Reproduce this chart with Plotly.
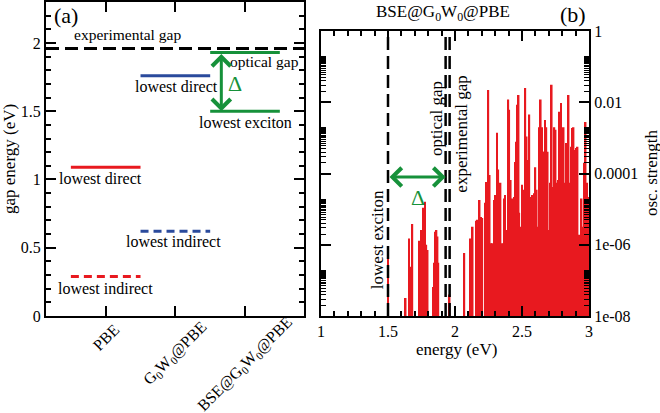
import plotly.graph_objects as go

# ---------------- data ----------------
methods = ["PBE", "G<sub>0</sub>W<sub>0</sub>@PBE", "BSE@G<sub>0</sub>W<sub>0</sub>@PBE"]
pbe_direct = 1.09
pbe_indirect = 0.29
g0w0_direct = 1.76
g0w0_indirect = 0.62
bse_exciton = 1.50
bse_optical = 1.93
exp_gap = 1.96

energies = [1.500, 1.632, 1.657, 1.672, 1.682, 1.736, 1.746, 1.759, 1.764, 1.776,
            1.786, 1.796, 1.838, 1.845, 1.852, 1.862, 1.870, 1.876, 1.960, 2.070,
            2.117, 2.132, 2.157, 2.169, 2.184, 2.194, 2.204, 2.224, 2.237, 2.249,
            2.259, 2.269, 2.278, 2.293, 2.304, 2.313, 2.323, 2.333, 2.340, 2.348,
            2.358, 2.366, 2.373, 2.390, 2.398, 2.405, 2.416, 2.430, 2.440, 2.448,
            2.458, 2.468, 2.475, 2.480, 2.490, 2.500, 2.507, 2.515, 2.525, 2.535,
            2.545, 2.555, 2.562, 2.570, 2.580, 2.590, 2.600, 2.610, 2.620, 2.627,
            2.634, 2.640, 2.648, 2.657, 2.664, 2.672, 2.682, 2.692, 2.700, 2.710,
            2.722, 2.732, 2.742, 2.751, 2.761, 2.771, 2.781, 2.791, 2.801, 2.811,
            2.821, 2.830, 2.840, 2.848, 2.855, 2.865, 2.875, 2.885, 2.895, 2.905,
            2.915, 2.925, 2.935, 2.945, 2.955, 2.965, 2.975, 2.985, 2.995]
osc_strength = [7.1e-7, 3.2e-8, 1.5e-6, 2.4e-7, 3.8e-6, 1.3e-6, 2.6e-6, 4.5e-8, 1.1e-5, 1.6e-5,
                1.0e-6, 7.1e-7, 6.5e-8, 3.1e-7, 2.3e-6, 2.6e-6, 1.7e-6, 3.1e-7, 4.0e-8, 5.9e-7,
                1.5e-6, 3.2e-6, 4.7e-6, 5.0e-6, 1.8e-5, 6.0e-6, 5.6e-6, 1.5e-5, 5.8e-5, 2.2e-2,
                9.1e-5, 1.1e-6, 1.1e-6, 1.8e-5, 2.5e-5, 1.4e-3, 1.3e-4, 2.2e-5, 5.5e-5, 1.1e-6,
                1.1e-6, 2.0e-5, 2.5e-5, 2.6e-6, 1.2e-2, 6.2e-3, 6.6e-5, 2.0e-5, 2.2e-5, 2.1e-4,
                7.8e-4, 8.5e-3, 1.6e-2, 7.9e-6, 3.2e-6, 4.8e-5, 3.5e-5, 5.0e-6, 2.5e-2, 1.1e-3,
                2.4e-4, 4.5e-3, 4.0e-6, 2.2e-5, 2.5e-5, 2.8e-5, 1.5e-4, 3.5e-5, 3.2e-6, 2.0e-3,
                5.2e-4, 1.2e-2, 2.0e-3, 4.1e-4, 4.1e-4, 3.2e-3, 2.0e-3, 4.1e-4, 2.6e-6, 5.5e-5,
                3.1e-2, 4.2e-5, 2.0e-3, 1.7e-3, 5.5e-5, 6.6e-5, 5.4e-3, 9.5e-3, 6.6e-5, 2.0e-3,
                5.5e-5, 7.2e-4, 6.3e-4, 1.6e-2, 5.5e-5, 5.6e-4, 1.9e-3, 2.0e-3, 4.6e-4, 5.2e-4,
                5.6e-4, 1.9e-6, 1.3e-7, 2.0e-5, 3.2e-6, 2.0e-4, 2.8e-3, 5.5e-5, 2.2e-5]

y_tickvals = [0, 0.5, 1, 1.5, 2]
y_ticktext = ["0", "0.5", "1", "1.5", "2"]
x2_tickvals = [1, 1.5, 2, 2.5, 3]
x2_ticktext = ["1", "1.5", "2", "2.5", "3"]
y2_tickvals = [1e-8, 1e-6, 1e-4, 1e-2, 1]
y2_ticktext = ["1e-08", "1e-06", "0.0001", "0.01", "1"]

# ---------------- styles ----------------
RED = "#e8191f"
BLUE = "#2a4a9c"
GREEN = "#16913a"
BLACK = "black"
FONT = "Liberation Serif"

W, H = 660, 413
def px_x(p): return p / W
def px_y(p): return (H - p) / H

fig = go.Figure()

# left panel level lines
def level(i, val, color, dash):
    fig.add_trace(go.Scatter(x=[i - 0.5, i + 0.5], y=[val, val], mode="lines",
                             line=dict(color=color, width=3, dash=dash),
                             xaxis="x", yaxis="y", showlegend=False, hoverinfo="skip"))

level(1, pbe_direct, RED, "solid")
level(1, pbe_indirect, RED, "8px,5px")
level(2, g0w0_direct, BLUE, "solid")
level(2, g0w0_indirect, BLUE, "8px,5px")
level(3, bse_exciton, GREEN, "solid")
level(3, bse_optical, GREEN, "solid")
fig.add_trace(go.Scatter(x=[0.143, 3.847], y=[exp_gap, exp_gap], mode="lines",
                         line=dict(color=BLACK, width=3, dash="13px,6px"),
                         xaxis="x", yaxis="y", showlegend=False, hoverinfo="skip"))

# right panel spectrum
fig.add_trace(go.Bar(x=energies, y=osc_strength, width=0.012, marker=dict(color=RED, line=dict(width=0)),
                     xaxis="x2", yaxis="y2", showlegend=False, hoverinfo="skip"))
for e in [bse_exciton, bse_optical, exp_gap]:
    fig.add_trace(go.Scatter(x=[e, e], y=[1e-8, 1], mode="lines",
                             line=dict(color=BLACK, width=2.5, dash="13px,6px"),
                             xaxis="x2", yaxis="y2", showlegend=False, hoverinfo="skip"))

axis_common = dict(showline=True, linecolor=BLACK, linewidth=2, mirror="ticks",
                   ticks="inside", tickcolor=BLACK, showgrid=False, zeroline=False,
                   automargin=False,
                   tickfont=dict(family=FONT, size=16, color=BLACK))

minor_log = []
for d in [-8, -6, -4, -2]:
    for m in range(2, 20):
        minor_log.append(m * 10 ** d)

fig.update_layout(
    width=W, height=H, margin=dict(l=0, r=0, t=0, b=0),
    paper_bgcolor="white", plot_bgcolor="white", barmode="overlay",
    font=dict(family=FONT, size=14, color=BLACK),
    xaxis=dict(domain=[px_x(46), px_x(304)], range=[0.143, 3.847], tickvals=[1, 2, 3],
               showticklabels=False, ticklen=10, tickwidth=2, anchor="y", **axis_common),
    yaxis=dict(domain=[px_y(316), px_y(2)], range=[0, 2.3], tickvals=y_tickvals, ticktext=y_ticktext,
               ticklen=10, tickwidth=2, anchor="x",
               minor=dict(dtick=0.1, ticklen=5, tickwidth=1.5, ticks="inside", tickcolor=BLACK),
               **axis_common),
    xaxis2=dict(domain=[px_x(321), px_x(589)], range=[1, 3], tickvals=x2_tickvals, ticktext=x2_ticktext,
                ticklen=10, tickwidth=2, anchor="y2",
                minor=dict(dtick=0.1, ticklen=5, tickwidth=1.5, ticks="inside", tickcolor=BLACK),
                **axis_common),
    yaxis2=dict(domain=[px_y(316), px_y(31)], type="log", range=[-8, 0], tickvals=y2_tickvals,
                ticktext=y2_ticktext, side="right", ticklen=10, tickwidth=2, anchor="x2",
                minor=dict(tickmode="array", tickvals=minor_log, ticklen=5, tickwidth=1, ticks="inside",
                           tickcolor=BLACK),
                **axis_common),
)

ann = []
def T(text, x, y, xref="x", yref="y", size=15.5, color=BLACK, angle=0):
    ann.append(dict(text=text, x=x, y=y, xref=xref, yref=yref, showarrow=False, textangle=angle,
                    font=dict(family=FONT, size=size, color=color), xanchor="center", yanchor="middle"))

# left panel texts
T("experimental gap", 1.31, 2.06)
T("optical gap", 3.28, 1.865)
T("Δ", 2.86, 1.70, size=22, color=GREEN)
T("lowest direct", 2.01, 1.68, size=16)
T("lowest exciton", 3.01, 1.42, size=16)
T("lowest direct", 0.93, 1.005, size=16)
T("lowest indirect", 1.98, 0.543, size=16)
T("lowest indirect", 0.99, 0.205, size=16)
T("(a)", 0.43, 2.2, size=22)
# category labels (rotated, centered under ticks)
for i, (lab, yp) in enumerate(zip(methods, [337, 353, 364])):
    T(lab, i + 1, px_y(yp), yref="paper", size=16, angle=-45)
T("gap energy (eV)", px_x(9), px_y(159), xref="paper", yref="paper", size=17, angle=-90)

# right panel texts
T("BSE@G<sub>0</sub>W<sub>0</sub>@PBE", px_x(443), px_y(13), xref="paper", yref="paper", size=17)
T("(b)", px_x(573), px_y(14), xref="paper", yref="paper", size=22)
T("energy (eV)", px_x(456), px_y(349), xref="paper", yref="paper", size=17)
T("osc. strength", px_x(651), px_y(173), xref="paper", yref="paper", size=17, angle=-90)
T("lowest exciton", 1.418, -5.87, xref="x2", yref="y2", size=17, angle=-90)
T("optical gap", 1.866, -2.47, xref="x2", yref="y2", size=17, angle=-90)
T("experimental gap", 2.05, -2.89, xref="x2", yref="y2", size=17, angle=-90)
T("Δ", 1.724, -4.66, xref="x2", yref="y2", size=22, color=GREEN)

# arrows
ann.append(dict(text="", x=2.66, y=bse_exciton, ax=2.66, ay=bse_optical, xref="x", yref="y",
                axref="x", ayref="y", showarrow=True, arrowside="end+start", arrowhead=4,
                arrowsize=1.2, arrowwidth=3, arrowcolor=GREEN))
ann.append(dict(text="", x=bse_optical, y=-4.1, ax=bse_exciton, ay=-4.1, xref="x2", yref="y2",
                axref="x2", ayref="y2", showarrow=True, arrowside="end+start", arrowhead=4,
                arrowsize=1.2, arrowwidth=3, arrowcolor=GREEN))

fig.update_layout(annotations=ann)
# remove the browser's default 8px body margin so the figure sits at the page origin
fig.write_html("out.html", config={"displayModeBar": False},
               post_script="document.body.style.margin='0';document.body.style.overflow='hidden';")
